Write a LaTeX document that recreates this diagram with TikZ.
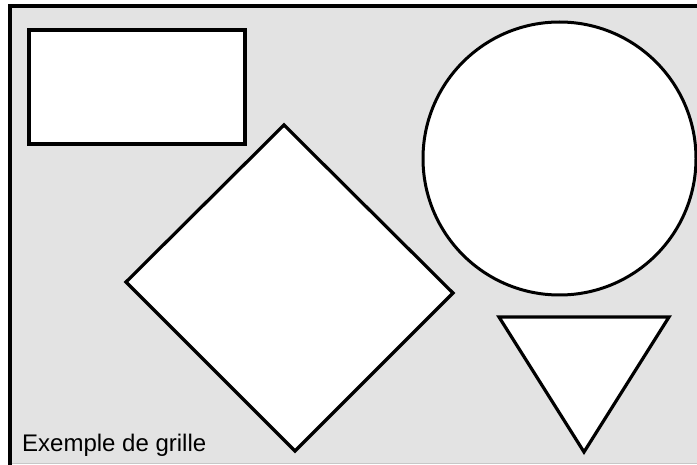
\documentclass[tikz,border=0pt]{standalone}
\usepackage{fontspec}
\setmainfont{Liberation Sans}
\definecolor{bggray}{HTML}{E3E3E3}
\begin{document}
\begin{tikzpicture}[x=1pt,y=-1pt,
  shapestyle/.style={draw=black,fill=white,line width=3.2pt,line join=miter},
  framestyle/.style={draw=black,fill=bggray,line width=3.2pt}]
\useasboundingbox (0,0) rectangle (697,465);
\fill[white] (0,0) rectangle (697,465);
\fill[bggray] (10,6) rectangle (697,462.5);
\draw[draw=black!22,line width=1pt] (11,463) -- (697,463);
\draw[framestyle,fill=none] (710,6) -- (10,6) -- (10,465);
\draw[shapestyle] (29,30) rectangle (245,144);
\draw[shapestyle] (284,125) -- (453,293) -- (295,451) -- (126,282) -- cycle;
\draw[shapestyle,line width=3pt] (559.5,158.5) circle (136.5);
\draw[shapestyle] (499,317) -- (669,317) -- (584,452) -- cycle;
\node[anchor=base west,inner sep=0pt,font=\fontsize{24}{28}\selectfont] (label) at (22,451) {Exemple de grille};
\end{tikzpicture}
\end{document}
